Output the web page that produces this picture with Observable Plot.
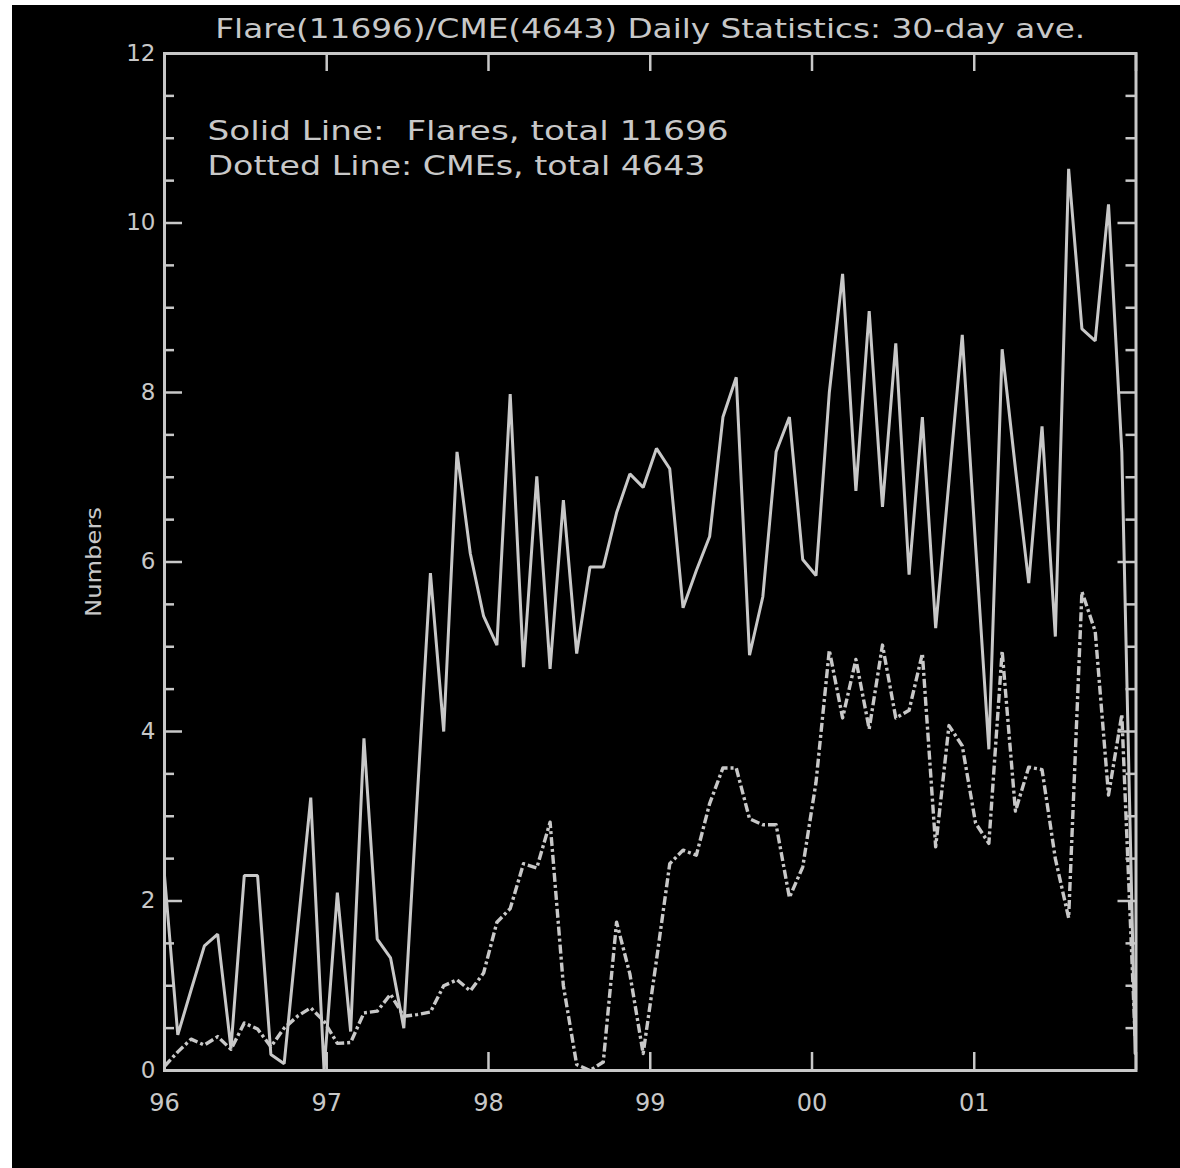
<!DOCTYPE html>
<html>
<head>
<meta charset="utf-8">
<script src="https://cdn.jsdelivr.net/npm/d3@7"></script>
<script src="https://cdn.jsdelivr.net/npm/@observablehq/plot@0.6"></script>
<style>
html, body { margin: 0; padding: 0; background: #ffffff; }
#chart { position: absolute; left: 12px; top: 5px; }
#chart svg { display: block; background: #000000; }
#chart svg text { white-space: pre; }
</style>
</head>
<body>
<div id="chart"></div>
<script>
// ---- Data ----
const titleText = "Flare(11696)/CME(4643) Daily Statistics: 30-day ave.";
const legendLines = ["Solid Line:  Flares, total 11696", "Dotted Line: CMEs, total 4643"];
const yAxisLabel = "Numbers";

// 30-day bins starting 1996-01-01
const binStart = "1996-01-01";
const binDays = 30;

// Flares per day, 30-day averages
const flares = [2.3, 0.42, 0.95, 1.47, 1.61, 0.26, 2.3, 2.3, 0.19, 0.08,
  1.65, 3.22, 0.0, 2.1, 0.46, 3.92, 1.55, 1.33, 0.5, 3.2,
  5.87, 4.0, 7.3, 6.1, 5.36, 5.02, 7.98, 4.76, 7.01, 4.74,
  6.73, 4.92, 5.94, 5.94, 6.58, 7.04, 6.88, 7.34, 7.1, 5.46,
  5.9, 6.3, 7.71, 8.18, 4.9, 5.59, 7.3, 7.71, 6.03, 5.84,
  8.0, 9.4, 6.84, 8.96, 6.65, 8.58, 5.85, 7.71, 5.22, 6.95,
  8.68, 6.2, 3.79, 8.51, 7.1, 5.75, 7.6, 5.12, 10.64, 8.75,
  8.61, 10.22, 7.3, 0.2];

// CMEs per day, 30-day averages
const cmes = [0.05, 0.22, 0.37, 0.3, 0.4, 0.25, 0.56, 0.49, 0.28, 0.5,
  0.64, 0.74, 0.58, 0.32, 0.33, 0.68, 0.7, 0.9, 0.64, 0.66,
  0.69, 1.0, 1.07, 0.94, 1.15, 1.75, 1.91, 2.44, 2.39, 2.93,
  1.0, 0.07, 0.0, 0.1, 1.75, 1.14, 0.2, 1.3, 2.44, 2.6,
  2.54, 3.15, 3.57, 3.57, 2.97, 2.9, 2.9, 2.04, 2.4, 3.4,
  4.96, 4.16, 4.85, 4.03, 5.02, 4.16, 4.25, 4.92, 2.64, 4.07,
  3.83, 2.92, 2.68, 4.95, 3.06, 3.58, 3.55, 2.5, 1.8, 5.65,
  5.18, 3.25, 4.2, 0.4];

const yearTicks = [1996, 1997, 1998, 1999, 2000, 2001, 2002];
const yearLabels = ["96", "97", "98", "99", "00", "01", ""];
const yMajorTicks = [0, 2, 4, 6, 8, 10, 12];
const yMinorTicks = [0.5, 1, 1.5, 2.5, 3, 3.5, 4.5, 5, 5.5, 6.5, 7, 7.5, 8.5, 9, 9.5, 10.5, 11, 11.5];

// ---- Derived ----
const startMs = Date.parse(binStart + "T00:00:00Z");
const binDates = flares.map((_, i) => new Date(startMs + i * binDays * 864e5));
const yearDates = yearTicks.map(y => new Date(Date.UTC(y, 0, 1)));

// ---- Style ----
const C = "#c8c8c8";
const W = 1168, H = 1163;
const mL = 152, mR = 44.5, mT = 48, mB = 98;
const frameW = W - mL - mR, frameH = H - mT - mB;
const FONT = "DejaVu Sans";

const chart = Plot.plot({
  width: W, height: H,
  marginLeft: mL, marginRight: mR, marginTop: mT, marginBottom: mB,
  style: { background: "#000", color: C, fontFamily: FONT },
  x: { type: "utc", domain: [yearDates[0], yearDates[yearDates.length - 1]], axis: null },
  y: { domain: [0, 12], axis: null },
  marks: [
    // year ticks bottom & top
    Plot.tickX(yearDates, { x: d => d, stroke: C, strokeWidth: 2.5, insetTop: frameH - 18 }),
    Plot.tickX(yearDates, { x: d => d, stroke: C, strokeWidth: 2.5, insetBottom: frameH - 18 }),
    // y ticks left & right
    Plot.tickY(yMajorTicks, { y: d => d, stroke: C, strokeWidth: 2.5, insetRight: frameW - 18 }),
    Plot.tickY(yMinorTicks, { y: d => d, stroke: C, strokeWidth: 2.5, insetRight: frameW - 10 }),
    Plot.tickY(yMajorTicks, { y: d => d, stroke: C, strokeWidth: 2.5, insetLeft: frameW - 18 }),
    Plot.tickY(yMinorTicks, { y: d => d, stroke: C, strokeWidth: 2.5, insetLeft: frameW - 10 }),
    Plot.frame({ stroke: C, strokeWidth: 3 }),
    // series
    Plot.lineY(flares, { x: binDates, y: flares, stroke: C, strokeWidth: 3, strokeLinejoin: "miter", curve: "linear" }),
    Plot.lineY(cmes, { x: binDates, y: cmes, stroke: C, strokeWidth: 3.4, strokeDasharray: "9,3,3,3", strokeLinecap: "butt", curve: "linear" }),
    // tick labels
    Plot.text(yearDates, { x: d => d, text: (d, i) => yearLabels[i], frameAnchor: "bottom", dy: 40, lineAnchor: "bottom", fontSize: 24, fill: C, fontFamily: FONT }),
    Plot.text(yMajorTicks, { y: d => d, text: d => String(d), frameAnchor: "left", dx: -9, textAnchor: "end", lineAnchor: "middle", fontSize: 23, fill: C, fontFamily: FONT }),
    // y axis label
    Plot.text([yAxisLabel], { text: d => d, frameAnchor: "left", dx: -71, rotate: -90, lineAnchor: "middle", textAnchor: "middle", fontSize: 22, fill: C, fontFamily: FONT }),
    // title
    Plot.text([titleText], { text: d => d, frameAnchor: "top", dy: -16, lineAnchor: "bottom", textAnchor: "middle", fontSize: 27, fill: C, fontFamily: FONT }),
    // legend text
    Plot.text([legendLines[0]], { text: d => d, frameAnchor: "top-left", dx: 43, dy: 86, lineAnchor: "bottom", textAnchor: "start", fontSize: 26, fill: C, fontFamily: FONT }),
    Plot.text([legendLines[1]], { text: d => d, frameAnchor: "top-left", dx: 43, dy: 121, lineAnchor: "bottom", textAnchor: "start", fontSize: 26, fill: C, fontFamily: FONT })
  ]
});

// Stretch long texts to the reference widths
const textWidths = new Map([[titleText, 870], [legendLines[0], 521], [legendLines[1], 498], [yAxisLabel, 110]]);
d3.select(chart).selectAll("text").each(function () {
  const w = textWidths.get(this.textContent);
  if (w) {
    this.setAttribute("textLength", w);
    this.setAttribute("lengthAdjust", "spacingAndGlyphs");
  }
});

document.getElementById("chart").appendChild(chart);
</script>
</body>
</html>
